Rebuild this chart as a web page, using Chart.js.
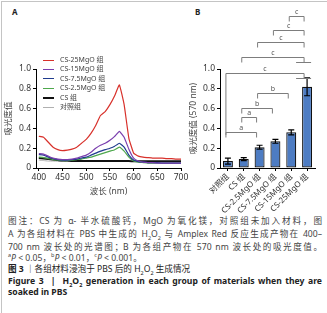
<!DOCTYPE html>
<html lang="zh">
<head>
<meta charset="UTF-8">
<title>图3 各组材料浸泡于 PBS 后的 H2O2 生成情况</title>
<script src="https://cdn.jsdelivr.net/npm/chart.js@4"></script>
<style>
  html, body { margin: 0; padding: 0; background: #fff; }
  body { width: 327px; height: 313px; position: relative; overflow: hidden;
         font-family: "Noto Sans", "Noto Sans CJK SC", sans-serif; color: #333; }
  .frame { position: absolute; left: 1px; top: 1px; width: 330px; height: 320px;
           border-top: 1px solid #c4c4c4; border-left: 1px solid #c4c4c4; }
  .tag { position: absolute; font: bold 8px "Noto Sans", sans-serif; color: #222; }
  #boxA { position: absolute; left: 0; top: 0; width: 190px; height: 201px; }
  #boxB { position: absolute; left: 160px; top: 0; width: 167px; height: 215px; }
  #legendA { position: absolute; left: 43px; top: 55px; font-size: 7px; line-height: 9.4px;
             font-family: "Noto Sans", "Noto Sans CJK SC", sans-serif; color: #444; }
  #legendA .sw { display: inline-block; width: 11px; height: 0; vertical-align: middle; margin-right: 6px; }
  .cap { position: absolute; left: 8px; width: 314px; font-size: 8.6px; line-height: 12px;
         font-family: "Noto Sans", "Noto Sans CJK SC", sans-serif; color: #444; white-space: nowrap; }
  .j { text-align: justify; text-align-last: justify; white-space: normal; }
  .cap sub, .cap sup { font-size: 5.5px; line-height: 0; }
  .dark { color: #222; }
  .en { font-weight: bold; color: #222; }
</style>
</head>
<body>
<div class="frame"></div>
<div class="tag" style="left:12px; top:6px;">A</div>
<div class="tag" style="left:195px; top:6px;">B</div>

<div id="boxA"><canvas id="chartA"></canvas></div>
<div id="legendA"></div>
<div id="boxB"><canvas id="chartB"></canvas></div>

<div class="cap j" style="top:215px;">图注：CS 为 α- 半水硫酸钙，MgO 为氧化镁，对照组未加入材料，图</div>
<div class="cap j" style="top:228px;">A 为各组材料在 PBS 中生成的 H<sub>2</sub>O<sub>2</sub> 与 Amplex Red 反应生成产物在 400–</div>
<div class="cap j" style="top:241px;">700 nm 波长处的光谱图；B 为各组产物在 570 nm 波长处的吸光度值。</div>
<div class="cap" style="top:252px;"><sup>a</sup><i>P</i> &lt; 0.05，<sup>b</sup><i>P</i> &lt; 0.01，<sup>c</sup><i>P</i> &lt; 0.001。</div>
<div class="cap dark" style="top:263px;"><b>图 3</b> ｜各组材料浸泡于 PBS 后的 H<sub>2</sub>O<sub>2</sub> 生成情况</div>
<div class="cap j en" style="top:275px;">Figure 3 &nbsp;|&nbsp; H<sub>2</sub>O<sub>2</sub> generation in each group of materials when they are</div>
<div class="cap en" style="top:286px;">soaked in PBS</div>

<script>
// ---- 图 A：光谱 ----
const wavelengths = [400, 410, 420, 430, 440, 450, 460, 470, 480, 490, 500, 510, 520, 530, 540, 550,
                     560, 570, 580, 590, 600, 610, 620, 630, 640, 650, 660, 670, 680, 690, 700];
const cs25 = [0.32, 0.31, 0.26, 0.21, 0.185, 0.175, 0.18, 0.19, 0.21, 0.25, 0.29, 0.35, 0.43, 0.53, 0.57, 0.64,
              0.73, 0.84, 0.64, 0.30, 0.15, 0.12, 0.11, 0.105, 0.10, 0.10, 0.10, 0.095, 0.095, 0.09, 0.09];
const cs15 = [0.145, 0.14, 0.12, 0.10, 0.09, 0.085, 0.085, 0.09, 0.10, 0.115, 0.13, 0.16, 0.20, 0.23, 0.25, 0.28,
              0.32, 0.37, 0.31, 0.19, 0.10, 0.07, 0.06, 0.055, 0.055, 0.05, 0.05, 0.05, 0.05, 0.05, 0.05];
const cs7_5 = [0.135, 0.13, 0.11, 0.095, 0.085, 0.08, 0.08, 0.085, 0.09, 0.10, 0.11, 0.13, 0.15, 0.17, 0.185, 0.20,
               0.22, 0.25, 0.21, 0.13, 0.08, 0.065, 0.06, 0.055, 0.055, 0.055, 0.05, 0.05, 0.05, 0.05, 0.05];
const cs2_5 = [0.11, 0.105, 0.095, 0.085, 0.08, 0.075, 0.075, 0.08, 0.085, 0.09, 0.10, 0.11, 0.125, 0.14, 0.155, 0.17,
               0.185, 0.21, 0.17, 0.11, 0.07, 0.06, 0.055, 0.05, 0.05, 0.05, 0.05, 0.05, 0.05, 0.05, 0.05];
const csOnly = [0.10, 0.095, 0.09, 0.085, 0.08, 0.075, 0.075, 0.07, 0.07, 0.07, 0.07, 0.07, 0.07, 0.07, 0.07, 0.07,
                0.07, 0.07, 0.07, 0.07, 0.068, 0.068, 0.068, 0.068, 0.068, 0.068, 0.068, 0.068, 0.068, 0.068, 0.068];
const control = [0.08, 0.075, 0.07, 0.07, 0.068, 0.068, 0.066, 0.066, 0.066, 0.066, 0.066, 0.066, 0.066, 0.066, 0.066, 0.066,
                 0.066, 0.066, 0.066, 0.066, 0.065, 0.065, 0.065, 0.065, 0.065, 0.065, 0.065, 0.065, 0.065, 0.065, 0.065];
const seriesNames = ['CS-25MgO 组', 'CS-15MgO 组', 'CS-7.5MgO 组', 'CS-2.5MgO 组', 'CS 组', '对照组'];
const seriesData = [cs25, cs15, cs7_5, cs2_5, csOnly, control];
const seriesColors = ['#d8312b', '#7a3fae', '#1f3b8e', '#4ea84c', '#111111', '#b0b0b0'];
const seriesWidths = [1.2, 1.2, 1.2, 1.2, 2, 1];
const xTicksA = [400, 450, 500, 550, 600, 650, 700];
const yTicks = [0, 0.2, 0.4, 0.6, 0.8, 1.0];

// ---- 图 B：570 nm 吸光度 ----
const groups = ['对照组', 'CS 组', 'CS-2.5MgO 组', 'CS-7.5MgO 组', 'CS-15MgO 组', 'CS-25MgO 组'];
const absorb570 = [0.07, 0.09, 0.21, 0.27, 0.36, 0.82];
const absorbErr = [0.03, 0.015, 0.02, 0.02, 0.025, 0.09];
const yTitleB = '吸光度值 (570 nm)';
// 显著性标记：起止组、高度（吸光度值）、字母
const sigFrom = [4, 3, 2, 1, 0, 2, 1, 1, 0];
const sigTo   = [5, 5, 5, 5, 5, 4, 3, 2, 2];
const sigAt   = [1.535, 1.39, 1.27, 1.12, 0.96, 0.76, 0.605, 0.515, 0.365];
const sigMark = ['c', 'c', 'c', 'c', 'c', 'b', 'b', 'a', 'a'];

const tickFont = { family: 'Noto Sans, Noto Sans CJK SC', size: 8.5 };
const titleFont = { family: 'Noto Sans, Noto Sans CJK SC', size: 8.5 };
const axisLook = {
  grid: { drawOnChartArea: false, drawTicks: true, tickLength: 3, color: '#000', offset: false },
  border: { color: '#000', width: 1 }
};

// 图例
document.getElementById('legendA').innerHTML = seriesNames.map((n, i) =>
  `<div><span class="sw" style="border-top:${seriesWidths[i] + 0.3}px solid ${seriesColors[i]}"></span>${n}</div>`
).join('');

new Chart(document.getElementById('chartA'), {
  type: 'line',
  data: {
    datasets: seriesNames.map((n, i) => ({
      label: n,
      data: wavelengths.map((w, k) => ({ x: w, y: seriesData[i][k] })),
      borderColor: seriesColors[i],
      borderWidth: seriesWidths[i],
      pointRadius: 0,
      tension: 0.1,
      order: i === 4 ? 5 : (i === 5 ? 6 : i)
    }))
  },
  options: {
    responsive: true, maintainAspectRatio: false, animation: false,
    layout: { padding: { top: 69, right: 9, left: 0, bottom: 0 } },
    plugins: { legend: { display: false }, tooltip: { enabled: false } },
    scales: {
      x: {
        type: 'linear', min: 394, max: 700, ...axisLook,
        afterBuildTicks: s => { s.ticks = xTicksA.map(v => ({ value: v })); },
        afterFit: s => { s.height = 33; },
        ticks: { font: tickFont, color: '#333', padding: 1, maxRotation: 0 },
        title: { display: true, text: '波长 (nm)', font: titleFont, color: '#444', padding: { top: 4, bottom: 4 } }
      },
      y: {
        min: 0, max: 1.0, ...axisLook,
        afterBuildTicks: s => { s.ticks = yTicks.map(v => ({ value: v })); },
        afterFit: s => { s.width = 36; },
        ticks: { font: tickFont, color: '#333', padding: 2, callback: v => v === 0 ? '0' : v.toFixed(1) },
        title: { display: true, text: '吸光度值', font: titleFont, color: '#444', padding: { top: 3, bottom: 2 } }
      }
    }
  }
});

// 误差线、显著性括号和 B 图的 y 轴标题
const errorAndSig = {
  id: 'errorAndSig',
  afterDatasetsDraw(chart) {
    const { ctx, chartArea, scales: { x, y } } = chart;
    ctx.save();
    ctx.strokeStyle = '#000';
    ctx.lineWidth = 1.2;
    absorb570.forEach((v, i) => {
      const cx = x.getPixelForValue(i);
      const top = y.getPixelForValue(v + absorbErr[i]);
      const bot = y.getPixelForValue(v - absorbErr[i]);
      ctx.beginPath();
      ctx.moveTo(cx, bot); ctx.lineTo(cx, top);
      ctx.moveTo(cx - 3, top); ctx.lineTo(cx + 3, top);
      ctx.moveTo(cx - 3, bot); ctx.lineTo(cx + 3, bot);
      ctx.stroke();
    });
    ctx.strokeStyle = '#7d7d7d';
    ctx.lineWidth = 1;
    ctx.fillStyle = '#555';
    ctx.font = '7px "Noto Sans", sans-serif';
    ctx.textAlign = 'center';
    ctx.textBaseline = 'bottom';
    sigFrom.forEach((f, k) => {
      const x1 = x.getPixelForValue(f) - 2;
      const x2 = x.getPixelForValue(sigTo[k]) - 3;
      const yy = Math.round(y.getPixelForValue(sigAt[k])) + 0.5;
      // 对照组 vs CS-25MgO 的左侧竖线一直延伸到下方 a 标记
      const leftEnd = (f === 0 && sigTo[k] === 5) ? y.getPixelForValue(sigAt[8]) + 3 : yy + 5;
      const rightEnd = yy + 5;
      ctx.beginPath();
      ctx.moveTo(x1, leftEnd); ctx.lineTo(x1, yy); ctx.lineTo(x2, yy); ctx.lineTo(x2, rightEnd);
      if (sigTo[k] === 5 && (f === 0 || f === 1)) {
        ctx.moveTo(x2 - 8, rightEnd); ctx.lineTo(x2 + 7, rightEnd);
      }
      ctx.stroke();
      ctx.fillText(sigMark[k], (x1 + x2) / 2, yy - 1);
    });
    // y 轴标题（紧贴刻度标签左侧）
    ctx.translate(chartArea.left - 26, (chartArea.top + chartArea.bottom) / 2);
    ctx.rotate(-Math.PI / 2);
    ctx.fillStyle = '#444';
    ctx.font = '8.5px "Noto Sans", "Noto Sans CJK SC", sans-serif';
    ctx.textBaseline = 'middle';
    ctx.fillText(yTitleB, 0, 0);
    ctx.restore();
  }
};

new Chart(document.getElementById('chartB'), {
  type: 'bar',
  data: {
    labels: groups,
    datasets: [{
      data: absorb570,
      backgroundColor: '#4d7cc3',
      borderColor: '#111',
      borderWidth: 1.2,
      borderSkipped: false,
      barPercentage: 0.63,
      categoryPercentage: 1
    }]
  },
  plugins: [errorAndSig],
  options: {
    responsive: true, maintainAspectRatio: false, animation: false,
    layout: { padding: { top: 69, right: 12, left: 0, bottom: 0 } },
    plugins: { legend: { display: false }, tooltip: { enabled: false } },
    scales: {
      x: {
        ...axisLook,
        afterFit: s => { s.height = 47; },
        ticks: { font: { family: 'Noto Sans, Noto Sans CJK SC', size: 8 }, color: '#333', padding: 1,
                 autoSkip: false, minRotation: 45, maxRotation: 45 }
      },
      y: {
        min: 0, max: 1.0, ...axisLook,
        afterBuildTicks: s => { s.ticks = yTicks.map(v => ({ value: v })); },
        afterFit: s => { s.width = 60; },
        ticks: { font: tickFont, color: '#333', padding: 2, callback: v => v === 0 ? '0' : v.toFixed(1) }
      }
    }
  }
});
</script>
</body>
</html>
